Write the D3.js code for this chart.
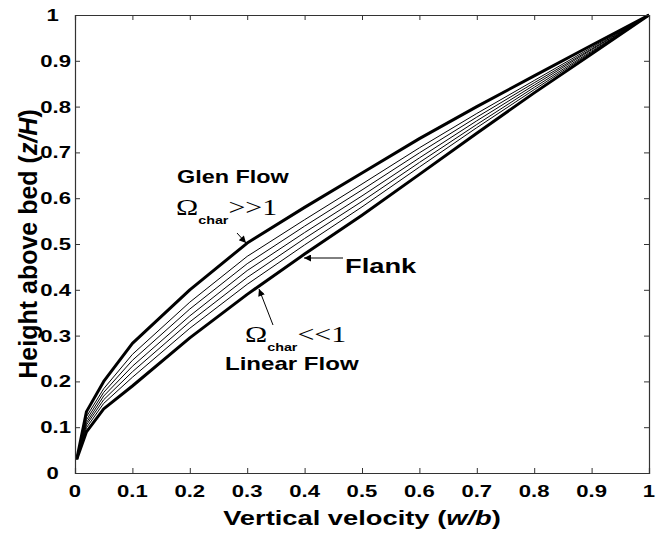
<!DOCTYPE html>
<html>
<head>
<meta charset="utf-8">
<script src="https://cdn.jsdelivr.net/npm/d3@7"></script>
<style>
body { margin: 0; background: #fff; }
svg { display: block; }
text { font-family: "Liberation Sans", Arial, sans-serif; font-weight: bold; fill: #000; }
.serif { font-family: "Liberation Serif", "Times New Roman", serif; font-weight: normal; }
</style>
</head>
<body>
<svg width="666" height="538"></svg>
<script>
const svg = d3.select('svg');

// velocity w/b where the profiles are sampled
const velocity = [0.003, 0.02, 0.05, 0.1, 0.2, 0.3, 0.4, 0.5, 0.6, 0.7, 0.8, 0.9, 1];
// height z/H of each profile, from Glen flow (top) down to linear flow (bottom)
const glenFlow = [0.03, 0.134, 0.2, 0.283, 0.4, 0.502, 0.58, 0.655, 0.73, 0.8, 0.867, 0.934, 1];
const mid1 = [0.03, 0.123, 0.184, 0.259, 0.373, 0.473, 0.553, 0.631, 0.71, 0.785, 0.857, 0.929, 1];
const mid2 = [0.03, 0.116, 0.176, 0.246, 0.358, 0.457, 0.539, 0.618, 0.699, 0.777, 0.852, 0.926, 1];
const mid3 = [0.03, 0.11, 0.168, 0.233, 0.343, 0.442, 0.525, 0.605, 0.688, 0.769, 0.847, 0.924, 1];
const mid4 = [0.03, 0.105, 0.16, 0.221, 0.33, 0.427, 0.512, 0.593, 0.678, 0.761, 0.842, 0.921, 1];
const mid5 = [0.03, 0.099, 0.152, 0.209, 0.316, 0.412, 0.498, 0.581, 0.668, 0.754, 0.837, 0.919, 1];
const linearFlow = [0.03, 0.09, 0.14, 0.19, 0.295, 0.39, 0.478, 0.563, 0.652, 0.742, 0.83, 0.915, 1];

const tickValues = [0, 0.1, 0.2, 0.3, 0.4, 0.5, 0.6, 0.7, 0.8, 0.9, 1];
const tickLabels = ['0', '0.1', '0.2', '0.3', '0.4', '0.5', '0.6', '0.7', '0.8', '0.9', '1'];

const profiles = [
	{ values: glenFlow, width: 3 },
	{ values: mid1, width: 1 },
	{ values: mid2, width: 1 },
	{ values: mid3, width: 1 },
	{ values: mid4, width: 1 },
	{ values: mid5, width: 1 },
	{ values: linearFlow, width: 3 },
];

// the original figure is stretched sideways, so its text is wide
const stretch = 1.3;

const margin = { top: 15, right: 17, bottom: 65, left: 75 };
const innerWidth = 666 - margin.left - margin.right;
const innerHeight = 538 - margin.top - margin.bottom;

const xScale = d3.scaleLinear().domain([0, 1]).range([0, innerWidth]);
const yScale = d3.scaleLinear().domain([0, 1]).range([innerHeight, 0]);

const g = svg.append('g').attr('transform', `translate(${margin.left},${margin.top})`);

// arrow heads
svg.append('defs')
	.append('marker')
	.attr('id', 'head')
	.attr('viewBox', '0 0 10 10')
	.attr('refX', 10)
	.attr('refY', 5)
	.attr('markerWidth', 9)
	.attr('markerHeight', 7)
	.attr('markerUnits', 'userSpaceOnUse')
	.attr('orient', 'auto')
	.append('path')
	.attr('d', 'M0,0L10,5L0,10Z')
	.attr('fill', '#000');

// profiles
const lineGenerator = d3.line()
	.x((d, i) => xScale(velocity[i]))
	.y(d => yScale(d));

g.selectAll('.profile')
	.data(profiles)
	.enter()
	.append('path')
	.attr('class', 'profile')
	.attr('d', d => lineGenerator(d.values))
	.attr('fill', 'none')
	.attr('stroke', '#000')
	.attr('stroke-width', d => d.width)
	.attr('stroke-linejoin', 'round');

// axes, ticks pointing in, box all round
const xAxis = d3.axisBottom(xScale).tickValues(tickValues).tickSize(-5);
const xAxisTop = d3.axisTop(xScale).tickValues(tickValues).tickSize(-5);
const yAxis = d3.axisLeft(yScale).tickValues(tickValues).tickSize(-5);
const yAxisRight = d3.axisRight(yScale).tickValues(tickValues).tickSize(-5);

g.append('g').attr('transform', `translate(0,${innerHeight})`).call(xAxis);
g.append('g').call(xAxisTop);
g.append('g').call(yAxis);
g.append('g').attr('transform', `translate(${innerWidth},0)`).call(yAxisRight);
g.selectAll('.domain').attr('stroke', '#333').attr('stroke-width', 1.2);
g.selectAll('.tick line').attr('stroke', '#333');
g.selectAll('.tick text').remove(); // labels are drawn below, widened
g.selectAll('.tick').filter(d => d === 0 || d === 1).select('line').remove();

// text widened with textLength
const widen = sel => {
	const len = sel.node().getComputedTextLength();
	sel.attr('textLength', len * stretch).attr('lengthAdjust', 'spacingAndGlyphs');
	return sel;
};

const label = (parent, x, y, anchor, size) =>
	parent.append('text')
		.attr('x', x)
		.attr('y', y)
		.attr('text-anchor', anchor)
		.style('font-size', size + 'px');

tickValues.forEach((v, i) => {
	widen(label(g, xScale(v), innerHeight + 24, 'middle', 17).text(tickLabels[i]));
	// MATLAB pads short labels with spaces
	const t = tickLabels[i].length === 1 ? tickLabels[i] + '\u00a0\u00a0' : tickLabels[i];
	widen(label(g, -4, yScale(v) + 6, 'end', 17).text(t));
});

// axis titles
const xTitle = label(svg, margin.left + innerWidth / 2, 525, 'middle', 21);
xTitle.append('tspan').text('Vertical velocity (');
xTitle.append('tspan').style('font-style', 'italic').text('w/b');
xTitle.append('tspan').text(')');
widen(xTitle);

const yTitle = svg.append('text')
	.attr('transform', `translate(37,${margin.top + innerHeight / 2}) rotate(-90)`)
	.attr('text-anchor', 'middle')
	.style('font-size', '25px');
yTitle.append('tspan').text('Height above bed (');
yTitle.append('tspan').style('font-style', 'italic').text('z/H');
yTitle.append('tspan').text(')');

// annotations
widen(label(svg, 177, 183, 'start', 18).text('Glen Flow'));
const omegaHigh = label(svg, 176, 215, 'start', 23);
omegaHigh.append('tspan').attr('class', 'serif').text('\u03a9');
omegaHigh.append('tspan').attr('dy', 9).style('font-size', '11px').text('char');
omegaHigh.append('tspan').attr('class', 'serif').attr('dy', -9).text('>>1');
widen(omegaHigh);

widen(label(svg, 345, 273, 'start', 21).text('Flank'));

const omegaLow = label(svg, 245, 342, 'start', 23);
omegaLow.append('tspan').attr('class', 'serif').text('\u03a9');
omegaLow.append('tspan').attr('dy', 9).style('font-size', '11px').text('char');
omegaLow.append('tspan').attr('class', 'serif').attr('dy', -9).text('<<1');
widen(omegaLow);
widen(label(svg, 225, 370, 'start', 18.5).text('Linear Flow'));

const arrows = [
	[237, 233, 246, 243],
	[343, 258, 304, 258],
	[273, 325, 259, 289],
];
svg.selectAll('.arrow')
	.data(arrows)
	.enter()
	.append('line')
	.attr('class', 'arrow')
	.attr('x1', d => d[0])
	.attr('y1', d => d[1])
	.attr('x2', d => d[2])
	.attr('y2', d => d[3])
	.attr('stroke', '#000')
	.attr('stroke-width', 1)
	.attr('marker-end', 'url(#head)');
</script>
</body>
</html>
